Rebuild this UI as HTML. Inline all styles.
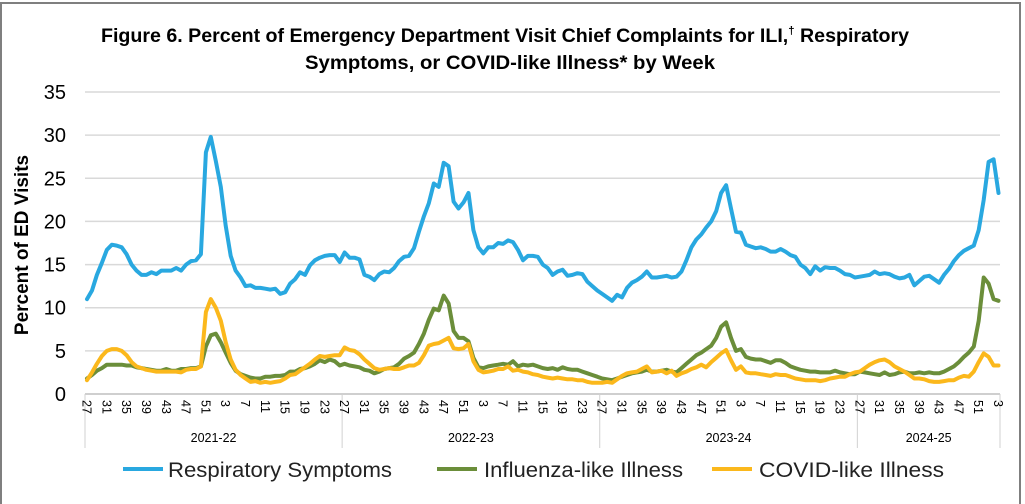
<!DOCTYPE html>
<html><head><meta charset="utf-8"><style>
html,body{margin:0;padding:0;background:#fff;}
svg{display:block;font-family:"Liberation Sans",sans-serif;}
</style></head><body>
<svg id="chart" width="1025" height="504" viewBox="0 0 1025 504">
<rect x="1" y="3" width="1019" height="510" fill="none" stroke="#7f7f7f" stroke-width="2"/>
<text x="505" y="42" text-anchor="middle" font-size="19" font-weight="bold" textLength="808" lengthAdjust="spacingAndGlyphs" fill="#000">Figure 6. Percent of Emergency Department Visit Chief Complaints for ILI,<tspan font-size="11" dy="-8">†</tspan><tspan dy="8"> Respiratory</tspan></text>
<text x="510" y="69" text-anchor="middle" font-size="19" font-weight="bold" textLength="410" lengthAdjust="spacingAndGlyphs" fill="#000">Symptoms, or COVID-like Illness* by Week</text>
<text transform="translate(28,245) rotate(-90)" text-anchor="middle" font-size="19" font-weight="bold" fill="#000">Percent of ED Visits</text>
<g id="grid"></g><g id="yticks"></g><g id="xticks"></g><g id="series"></g>
<g>
<line x1="123" y1="469" x2="163" y2="469" stroke="#29a8e0" stroke-width="4"/>
<text x="168" y="477" font-size="21" textLength="224" lengthAdjust="spacingAndGlyphs" fill="#222">Respiratory Symptoms</text>
<line x1="437" y1="469" x2="477" y2="469" stroke="#6b8e3a" stroke-width="4"/>
<text x="484" y="477" font-size="21" textLength="199" lengthAdjust="spacingAndGlyphs" fill="#222">Influenza-like Illness</text>
<line x1="712" y1="469" x2="752" y2="469" stroke="#fbb81c" stroke-width="4"/>
<text x="759" y="477" font-size="21" textLength="185" lengthAdjust="spacingAndGlyphs" fill="#222">COVID-like Illness</text>
</g>
</svg>
<script>
const seasons = ["2021-22","2022-23","2023-24","2024-25"];
const seasonLengths = [52,52,52,29];
const yTicks = [0,5,10,15,20,25,30,35];
const respiratory = [
11,12,13.8,15.2,16.7,17.3,17.2,17,16.2,15,14.3,13.8,13.8,14.1,13.9,14.3,14.3,14.3,14.6,14.3,15,15.4,15.5,16.2,28,29.8,27,24,19.5,16,14.3,13.5,12.5,12.6,12.3,12.3,12.2,12.1,12.2,11.6,11.8,12.8,13.3,14.1,13.8,14.9,15.5,15.8,16,16.1,16.1,15.3,
16.4,15.8,15.8,15.6,13.8,13.6,13.2,13.9,14.2,14.1,14.6,15.4,15.9,16.0,16.9,18.8,20.6,22.1,24.4,24.0,26.8,26.4,22.3,21.5,22.2,23.3,19,17,16.3,17.0,17.0,17.5,17.4,17.8,17.6,16.7,15.5,16.0,16.0,15.9,15.0,14.6,13.8,14.2,14.4,13.7,13.8,14.0,13.9,13.0,12.5,12.0,
11.6,11.2,10.8,11.5,11.2,12.3,12.9,13.2,13.6,14.2,13.5,13.5,13.6,13.7,13.5,13.6,14.2,15.5,17.0,17.9,18.5,19.3,20.0,21.2,23.3,24.2,21.5,18.8,18.7,17.3,17.1,16.9,17.0,16.8,16.5,16.5,16.8,16.5,16.1,15.9,15.0,14.6,13.9,14.8,14.3,14.7,14.6,14.6,14.3,13.9,13.8,13.5,
13.6,13.7,13.8,14.2,13.9,14.0,13.9,13.6,13.4,13.5,13.8,12.6,13.1,13.6,13.7,13.3,12.9,13.8,14.5,15.4,16.1,16.6,16.9,17.2,19.0,22.5,26.9,27.2,23.3];
const ili = [
1.8,2.2,2.7,3.0,3.4,3.4,3.4,3.4,3.3,3.3,3.1,3.0,2.9,2.8,2.7,2.7,2.9,2.7,2.7,2.9,2.9,3.0,3.0,3.2,5.5,6.8,7.0,6.0,4.8,3.6,2.7,2.3,2.1,1.9,1.8,1.8,2.0,2.0,2.1,2.1,2.2,2.6,2.6,2.9,3.0,3.2,3.5,3.9,3.7,4.0,3.8,3.3,
3.5,3.3,3.2,3.1,2.8,2.7,2.4,2.6,2.9,3.0,3.1,3.5,4.1,4.4,4.8,5.8,7.0,8.6,9.9,9.7,11.4,10.5,7.3,6.5,6.5,6.1,4.2,3.1,3.0,3.2,3.3,3.4,3.5,3.4,3.8,3.2,3.4,3.3,3.4,3.2,3.0,2.9,3.0,2.8,3.1,2.9,2.8,2.8,2.6,2.4,2.2,2.0,
1.8,1.7,1.6,1.8,2.0,2.2,2.4,2.5,2.6,2.8,2.6,2.6,2.7,2.8,2.6,2.5,3.0,3.5,4.0,4.5,4.8,5.2,5.6,6.5,7.8,8.3,6.5,5.0,5.2,4.3,4.1,4.0,4.0,3.8,3.6,3.9,3.9,3.6,3.2,3.0,2.8,2.7,2.6,2.6,2.5,2.5,2.5,2.7,2.5,2.4,2.3,2.3,
2.6,2.5,2.4,2.3,2.2,2.5,2.2,2.3,2.5,2.6,2.4,2.4,2.5,2.4,2.5,2.4,2.4,2.6,2.9,3.2,3.7,4.3,4.8,5.5,8.5,13.5,12.8,11.0,10.8];
const covid = [
1.6,2.5,3.5,4.4,5.0,5.2,5.2,5.0,4.5,3.7,3.2,3.0,2.8,2.7,2.6,2.6,2.6,2.6,2.6,2.5,2.8,2.9,2.9,3.2,9.5,11.0,10.0,8.5,6.0,4.0,2.8,2.2,1.8,1.4,1.5,1.3,1.4,1.3,1.4,1.5,1.8,2.2,2.3,2.7,3.1,3.5,4.0,4.4,4.3,4.4,4.5,4.5,
5.4,5.1,5.0,4.6,4.0,3.5,3.0,2.8,2.9,3.0,2.9,2.9,3.1,3.3,3.3,3.6,4.5,5.6,5.8,5.9,6.2,6.5,5.3,5.2,5.3,5.8,3.8,2.8,2.5,2.6,2.7,2.9,2.9,3.2,2.7,2.8,2.6,2.5,2.3,2.2,2.0,1.9,1.8,1.9,1.8,1.7,1.7,1.6,1.6,1.4,1.3,1.3,
1.3,1.4,1.3,1.7,2.1,2.4,2.5,2.6,2.9,3.2,2.5,2.6,2.7,2.4,2.7,2.1,2.4,2.6,2.9,3.1,3.4,3.1,3.7,4.2,4.7,5.1,3.9,2.8,3.2,2.5,2.4,2.4,2.3,2.2,2.1,2.3,2.2,2.2,2.0,1.8,1.7,1.6,1.6,1.6,1.5,1.6,1.8,1.9,2.0,2.0,2.3,2.5,
2.6,3.0,3.4,3.7,3.9,4.0,3.7,3.2,2.9,2.6,2.2,1.8,1.8,1.7,1.5,1.4,1.4,1.5,1.6,1.6,1.9,2.1,2.0,2.6,3.7,4.7,4.3,3.3,3.3];

const NS='http://www.w3.org/2000/svg';
const X0=85, X1=1000, Y0=394, Y35=92;
const total = seasonLengths.reduce((a,b)=>a+b,0);
const step = (X1-X0)/(total-0.3);
function xPos(i){return X0+2+i*step;}
function yPos(v){return Y0-(v/35)*(Y0-Y35);}
function mk(tag,attrs,parent){const e=document.createElementNS(NS,tag);for(const k in attrs)e.setAttribute(k,attrs[k]);parent.appendChild(e);return e;}
const grid=document.getElementById('grid'), yt=document.getElementById('yticks'), xt=document.getElementById('xticks'), ser=document.getElementById('series');
yTicks.forEach(v=>{
  if(v>0){const l=mk('line',{x1:X0,x2:X1,y1:yPos(v),y2:yPos(v),stroke:'#d9d9d9','stroke-width':1.5},grid);
  
  }
  const t=mk('text',{x:66,y:yPos(v)+7,'text-anchor':'end','font-size':20,fill:'#000'},yt);
  t.textContent=v;
  
  
});
const ax=mk('line',{x1:X0,x2:X1,y1:Y0,y2:Y0,stroke:'#bfbfbf','stroke-width':1.5},grid);


let start=0;
seasons.forEach((s,si)=>{
  const n=seasonLengths[si];
  const bx = si===0?X0:xPos(start-0.5);
  const d=mk('line',{x1:bx,x2:bx,y1:Y0,y2:448,stroke:'#d0d0d0','stroke-width':1},grid);
  
  
  for(let k=0;k<n;k++){
    const wk = k<26 ? 27+k : k-25;
    if((k%4)===0){
      const x=xPos(start+k);
      const t=mk('text',{transform:`translate(${x-4.5},400) rotate(90)`,'font-size':12.5,fill:'#000'},xt);
      t.textContent=wk;
      
      
    }
  }
  const endx = si===seasons.length-1?X1:xPos(start+n-0.5);
  const st=mk('text',{x:(bx+endx)/2,y:442,'text-anchor':'middle','font-size':12.5,fill:'#000'},xt);
  st.textContent=s;
  
  
  start+=n;
});
const ed=mk('line',{x1:X1,x2:X1,y1:Y0,y2:448,stroke:'#d0d0d0','stroke-width':1},grid);


function drawSeries(arr,color,name){
  const pts=arr.map((v,i)=>xPos(i).toFixed(1)+','+yPos(v).toFixed(1)).join(' ');
  const p=mk('polyline',{points:pts,fill:'none',stroke:color,'stroke-width':4,'stroke-linejoin':'round','stroke-linecap':'round'},ser);
  
  
}
drawSeries(ili,'#6b8e3a','ili-line');
drawSeries(covid,'#fbb81c','covid-line');
drawSeries(respiratory,'#29a8e0','respiratory-line');
</script>
</body></html>
